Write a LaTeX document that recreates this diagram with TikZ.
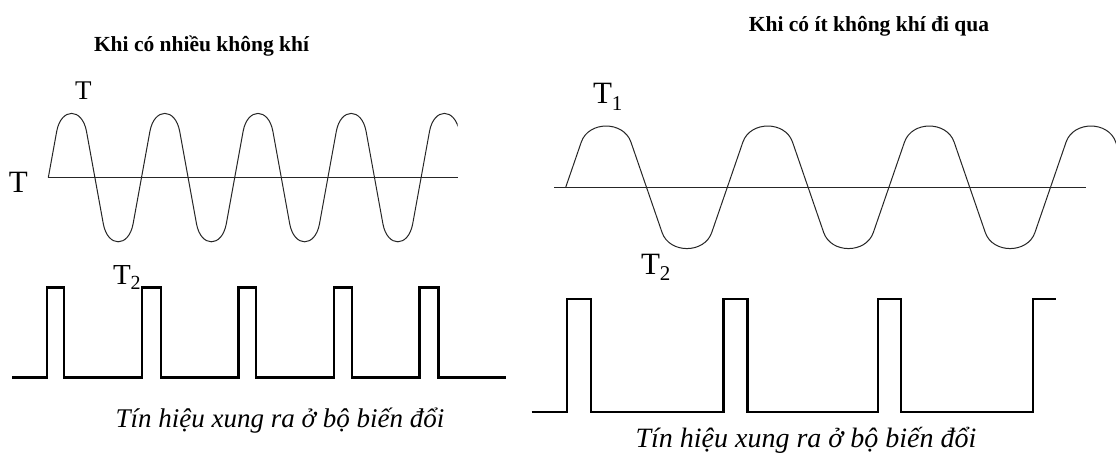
\documentclass[tikz,border=0pt]{standalone}
\usepackage{fontspec}
\setmainfont{Liberation Serif}
\begin{document}
\begin{tikzpicture}[x=1pt,y=-1pt,
  wave/.style={line width=1pt,black!85,line join=round},
  pulse/.style={line width=2.4pt,black,line join=miter},
  axisline/.style={line width=1pt,black!85},
  lbl/.style={inner sep=0pt,outer sep=0pt,anchor=base west},
  title/.style={inner sep=0pt,outer sep=0pt,font=\fontsize{21.5}{21.5}\selectfont\bfseries},
  caption/.style={inner sep=0pt,outer sep=0pt,anchor=base,font=\fontsize{27}{27}\selectfont\itshape}]
\useasboundingbox (0,0) rectangle (1116,457);
\fill[white] (0,0) rectangle (1116,457);

% titles
\node[title,anchor=base west] (t1) at (94,52) {Khi có nhiều không khí};
\node[title,anchor=base] (t2) at (869,32) {Khi có ít không khí đi qua};

% ---------- left wave ----------
\coordinate (lb0) at (48.3,177.6);
\coordinate (lb1) at (458,177.6);
\draw[axisline] (lb0) -- (lb1);
\begin{scope}
\clip (40,60) rectangle (457.5,260);
\draw[wave] (lb0) \foreach \i in {1,...,5} {
  -- ++(8.4,-46.2) .. controls +(4.4,-24) and +(-4.4,-24) .. ++(29.8,0) -- ++(8.4,46.2)
  -- ++(8.4,46.2) .. controls +(4.4,24) and +(-4.4,24) .. ++(29.8,0) -- ++(8.4,-46.2)
};
\end{scope}

% ---------- right wave ----------
\coordinate (rb0) at (554,187.3);
\coordinate (rb1) at (1086,187.3);
\coordinate (rw0) at (565.7,187.3);
\draw[axisline] (rb0) -- (rb1);
\begin{scope}
\clip (540,60) rectangle (1116,270);
\draw[wave] (rw0) \foreach \i in {1,...,4} {
  -- ++(15.6,-45.3) .. controls +(7.4,-21.3) and +(-7.4,-21.3) .. ++(49.6,0) -- ++(15.6,45.3)
  -- ++(15.6,45.3) .. controls +(7.4,21.3) and +(-7.4,21.3) .. ++(49.6,0) -- ++(15.6,-45.3)
};
\end{scope}

% ---------- labels ----------
\node[lbl,font=\fontsize{27}{27}\selectfont] (tl) at (75,100) {T};
\node[lbl,font=\fontsize{31}{31}\selectfont] (tb) at (9,193) {T};
\node[lbl,font=\fontsize{29}{29}\selectfont] (t2l) at (113,284) {T\raisebox{-0.2em}{\fontsize{20}{20}\selectfont 2}};
\node[lbl,font=\fontsize{31}{31}\selectfont] (t1r) at (593,104) {T\raisebox{-0.2em}{\fontsize{21}{21}\selectfont 1}};
\node[lbl,font=\fontsize{31}{31}\selectfont] (t2r) at (641,274) {T\raisebox{-0.2em}{\fontsize{21}{21}\selectfont 2}};

% ---------- left pulses ----------
\coordinate (lp0) at (12.3,377.3);
\coordinate (lp1) at (505.7,377.3);
\draw[pulse] (lp0) -- (46.7,377.3) -- (46.7,287.3) -- (64,287.3) -- (64,377.3)
  -- (141.7,377.3) -- (141.7,287.3) -- (160.7,287.3) -- (160.7,377.3)
  -- (238.3,377.3) -- (238.3,287.3) -- (256,287.3) -- (256,377.3)
  -- (334,377.3) -- (334,287.3) -- (351.7,287.3) -- (351.7,377.3)
  -- (419.3,377.3) -- (419.3,287.3) -- (438.3,287.3) -- (438.3,377.3)
  -- (lp1);

% ---------- right pulses ----------
\coordinate (rp0) at (531.7,411.7);
\coordinate (rp1) at (1056,299);
\draw[pulse] (rp0) -- (566.7,411.7) -- (566.7,299) -- (590.7,299) -- (590.7,411.7)
  -- (723.3,411.7) -- (723.3,299) -- (747.3,299) -- (747.3,411.7)
  -- (877.7,411.7) -- (877.7,299) -- (900.7,299) -- (900.7,411.7)
  -- (1032.7,411.7) -- (1032.7,299) -- (rp1);

% ---------- captions ----------
\node[caption] (c1) at (280,427) {Tín hiệu xung ra ở bộ biến đổi};
\node[caption,font=\fontsize{28}{28}\selectfont\itshape] (c2) at (806,447) {Tín hiệu xung ra ở bộ biến đổi};
\end{tikzpicture}
\end{document}
